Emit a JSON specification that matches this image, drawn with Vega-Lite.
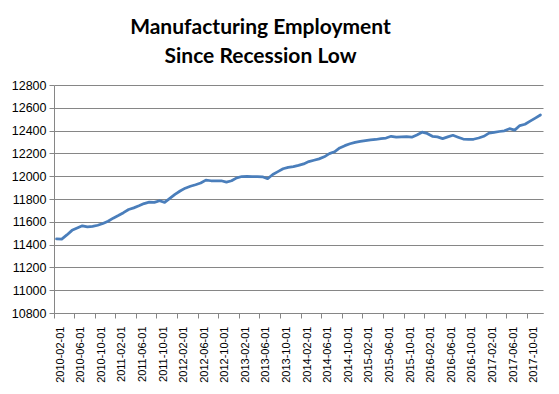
{
  "$schema": "https://vega.github.io/schema/vega-lite/v6.json",
  "width": 489,
  "height": 228,
  "autosize": {"type": "none"},
  "padding": {"left": 54, "top": 85, "right": 16, "bottom": 81},
  "background": "white",
  "title": {
    "text": ["Manufacturing Employment", "Since Recession Low"],
    "font": "Lato",
    "fontSize": 21,
    "fontWeight": "bold",
    "color": "black",
    "lineHeight": 29,
    "anchor": "middle",
    "dx": -38,
    "offset": 12
  },
  "config": {"view": {"stroke": null}},
  "data": {"values": [
    {"date": "2010-02-01", "value": 11450},
    {"date": "2010-03-01", "value": 11448},
    {"date": "2010-04-01", "value": 11485},
    {"date": "2010-05-01", "value": 11525},
    {"date": "2010-06-01", "value": 11545},
    {"date": "2010-07-01", "value": 11565},
    {"date": "2010-08-01", "value": 11555},
    {"date": "2010-09-01", "value": 11560},
    {"date": "2010-10-01", "value": 11570},
    {"date": "2010-11-01", "value": 11585},
    {"date": "2010-12-01", "value": 11605},
    {"date": "2011-01-01", "value": 11632},
    {"date": "2011-02-01", "value": 11655},
    {"date": "2011-03-01", "value": 11680},
    {"date": "2011-04-01", "value": 11708},
    {"date": "2011-05-01", "value": 11722},
    {"date": "2011-06-01", "value": 11740},
    {"date": "2011-07-01", "value": 11760},
    {"date": "2011-08-01", "value": 11772},
    {"date": "2011-09-01", "value": 11770},
    {"date": "2011-10-01", "value": 11785},
    {"date": "2011-11-01", "value": 11770},
    {"date": "2011-12-01", "value": 11805},
    {"date": "2012-01-01", "value": 11840},
    {"date": "2012-02-01", "value": 11870},
    {"date": "2012-03-01", "value": 11895},
    {"date": "2012-04-01", "value": 11912},
    {"date": "2012-05-01", "value": 11925},
    {"date": "2012-06-01", "value": 11940},
    {"date": "2012-07-01", "value": 11966},
    {"date": "2012-08-01", "value": 11960},
    {"date": "2012-09-01", "value": 11960},
    {"date": "2012-10-01", "value": 11960},
    {"date": "2012-11-01", "value": 11948},
    {"date": "2012-12-01", "value": 11960},
    {"date": "2013-01-01", "value": 11985},
    {"date": "2013-02-01", "value": 11997},
    {"date": "2013-03-01", "value": 11998},
    {"date": "2013-04-01", "value": 11997},
    {"date": "2013-05-01", "value": 11997},
    {"date": "2013-06-01", "value": 11995},
    {"date": "2013-07-01", "value": 11978},
    {"date": "2013-08-01", "value": 12015},
    {"date": "2013-09-01", "value": 12040},
    {"date": "2013-10-01", "value": 12065},
    {"date": "2013-11-01", "value": 12078},
    {"date": "2013-12-01", "value": 12084},
    {"date": "2014-01-01", "value": 12095},
    {"date": "2014-02-01", "value": 12108},
    {"date": "2014-03-01", "value": 12128},
    {"date": "2014-04-01", "value": 12140},
    {"date": "2014-05-01", "value": 12152},
    {"date": "2014-06-01", "value": 12170},
    {"date": "2014-07-01", "value": 12198},
    {"date": "2014-08-01", "value": 12214},
    {"date": "2014-09-01", "value": 12248},
    {"date": "2014-10-01", "value": 12268},
    {"date": "2014-11-01", "value": 12285},
    {"date": "2014-12-01", "value": 12297},
    {"date": "2015-01-01", "value": 12305},
    {"date": "2015-02-01", "value": 12312},
    {"date": "2015-03-01", "value": 12318},
    {"date": "2015-04-01", "value": 12322},
    {"date": "2015-05-01", "value": 12330},
    {"date": "2015-06-01", "value": 12335},
    {"date": "2015-07-01", "value": 12350},
    {"date": "2015-08-01", "value": 12342},
    {"date": "2015-09-01", "value": 12345},
    {"date": "2015-10-01", "value": 12347},
    {"date": "2015-11-01", "value": 12342},
    {"date": "2015-12-01", "value": 12362},
    {"date": "2016-01-01", "value": 12386},
    {"date": "2016-02-01", "value": 12375},
    {"date": "2016-03-01", "value": 12350},
    {"date": "2016-04-01", "value": 12345},
    {"date": "2016-05-01", "value": 12330},
    {"date": "2016-06-01", "value": 12345},
    {"date": "2016-07-01", "value": 12359},
    {"date": "2016-08-01", "value": 12342},
    {"date": "2016-09-01", "value": 12326},
    {"date": "2016-10-01", "value": 12324},
    {"date": "2016-11-01", "value": 12324},
    {"date": "2016-12-01", "value": 12335},
    {"date": "2017-01-01", "value": 12350},
    {"date": "2017-02-01", "value": 12378},
    {"date": "2017-03-01", "value": 12385},
    {"date": "2017-04-01", "value": 12392},
    {"date": "2017-05-01", "value": 12398},
    {"date": "2017-06-01", "value": 12417},
    {"date": "2017-07-01", "value": 12404},
    {"date": "2017-08-01", "value": 12444},
    {"date": "2017-09-01", "value": 12456},
    {"date": "2017-10-01", "value": 12483},
    {"date": "2017-11-01", "value": 12510},
    {"date": "2017-12-01", "value": 12537}
  ]},
  "mark": {"type": "line", "color": "#4A7EBB", "strokeWidth": 2.75, "strokeJoin": "round", "strokeCap": "round"},
  "encoding": {
    "x": {
      "field": "date",
      "type": "ordinal",
      "sort": null,
      "scale": {"type": "band", "paddingInner": 0, "paddingOuter": 0},
      "axis": {
        "title": null,
        "values": ["2010-02-01","2010-06-01","2010-10-01","2011-02-01","2011-06-01","2011-10-01","2012-02-01","2012-06-01","2012-10-01","2013-02-01","2013-06-01","2013-10-01","2014-02-01","2014-06-01","2014-10-01","2015-02-01","2015-06-01","2015-10-01","2016-02-01","2016-06-01","2016-10-01","2017-02-01","2017-06-01","2017-10-01"],
        "bandPosition": 0,
        "labelOffset": 4,
        "labelAngle": 270,
        "labelAlign": "right",
        "labelBaseline": "middle",
        "labelFont": "Liberation Sans",
        "labelFontSize": 11,
        "labelColor": "black",
        "labelPadding": 8,
        "tickSize": 5,
        "tickColor": "#868686",
        "domainColor": "#868686",
        "grid": false
      }
    },
    "y": {
      "field": "value",
      "type": "quantitative",
      "scale": {"domain": [10800, 12800], "nice": false, "zero": false},
      "axis": {
        "title": null,
        "values": [10800, 11000, 11200, 11400, 11600, 11800, 12000, 12200, 12400, 12600, 12800],
        "format": "d",
        "labelFont": "Liberation Sans",
        "labelFontSize": 12.5,
        "labelColor": "black",
        "labelPadding": 3,
        "tickSize": 5,
        "tickColor": "#868686",
        "domainColor": "#868686",
        "gridColor": "#868686",
        "gridOpacity": 1,
        "grid": true
      }
    }
  }
}
